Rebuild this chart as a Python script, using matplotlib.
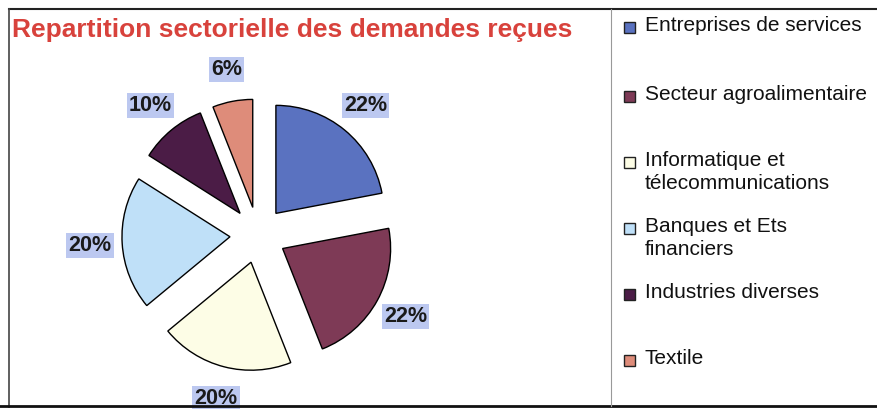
import matplotlib.pyplot as plt
from matplotlib.patches import Rectangle
from matplotlib.lines import Line2D

plt.rcParams['font.family'] = ['Liberation Sans', 'DejaVu Sans']

secteurs = ['Entreprises de services', 'Secteur agroalimentaire',
            'Informatique et\ntélecommunications', 'Banques et Ets\nfinanciers',
            'Industries diverses', 'Textile']
parts = [22, 22, 20, 20, 10, 6]
couleurs = ['#5a72c0', '#7e3a56', '#fdfde6', '#bfe0f8', '#4b1c46', '#de8c7a']

W, H = 878, 409
fig = plt.figure(figsize=(W / 100, H / 100), dpi=100)

# pie axes: centre (258, 235) px, radius 108 px
cx, cy, r = 258, 235, 108
half = 200
ax = fig.add_axes([(cx - half) / W, (H - cy - half) / H, 2 * half / W, 2 * half / H])
wedges, texts, autotexts = ax.pie(
    parts, colors=couleurs, startangle=90, counterclock=False,
    explode=[0.26] * len(parts), autopct='%d%%', pctdistance=1.3,
    wedgeprops=dict(edgecolor='black', linewidth=1.0),
    textprops=dict(fontsize=15.5, fontweight='bold', color='#1a1a1a'))
for t in autotexts:
    t.set_bbox(dict(facecolor='#bcc8f0', edgecolor='none', pad=1.5))
lim = half / r
ax.set_xlim(-lim, lim)
ax.set_ylim(-lim, lim)
ax.set_aspect('equal')
ax.axis('off')

fig.text(12 / W, 1 - 30 / H, 'Repartition sectorielle des demandes reçues',
         color='#d8423c', fontsize=19, fontweight='bold', va='center', ha='left')

# frame
def px_line(x0, y0, x1, y1, **kw):
    fig.add_artist(Line2D([x0 / W, x1 / W], [1 - y0 / H, 1 - y1 / H], **kw))

px_line(9, 9, W, 9, color='#222222', linewidth=1.5)
px_line(9, 9, 9, 407, color='#444444', linewidth=1.2)
px_line(0, 406, W, 406, color='#111111', linewidth=2)
px_line(611, 9, 611, 406, color='#999999', linewidth=0.8)

# legend
leg_y = [27, 96, 162, 228, 294, 360]
for lab, col, y in zip(secteurs, couleurs, leg_y):
    fig.add_artist(Rectangle((624 / W, 1 - (y + 6) / H), 11 / W, 11 / H,
                             facecolor=col, edgecolor='#222222', linewidth=1,
                             transform=fig.transFigure))
    fig.text(645 / W, 1 - (y - 11) / H, lab, fontsize=15, va='top', ha='left',
             color='#111111', linespacing=1.25)

fig.savefig('out.png', dpi=100)
